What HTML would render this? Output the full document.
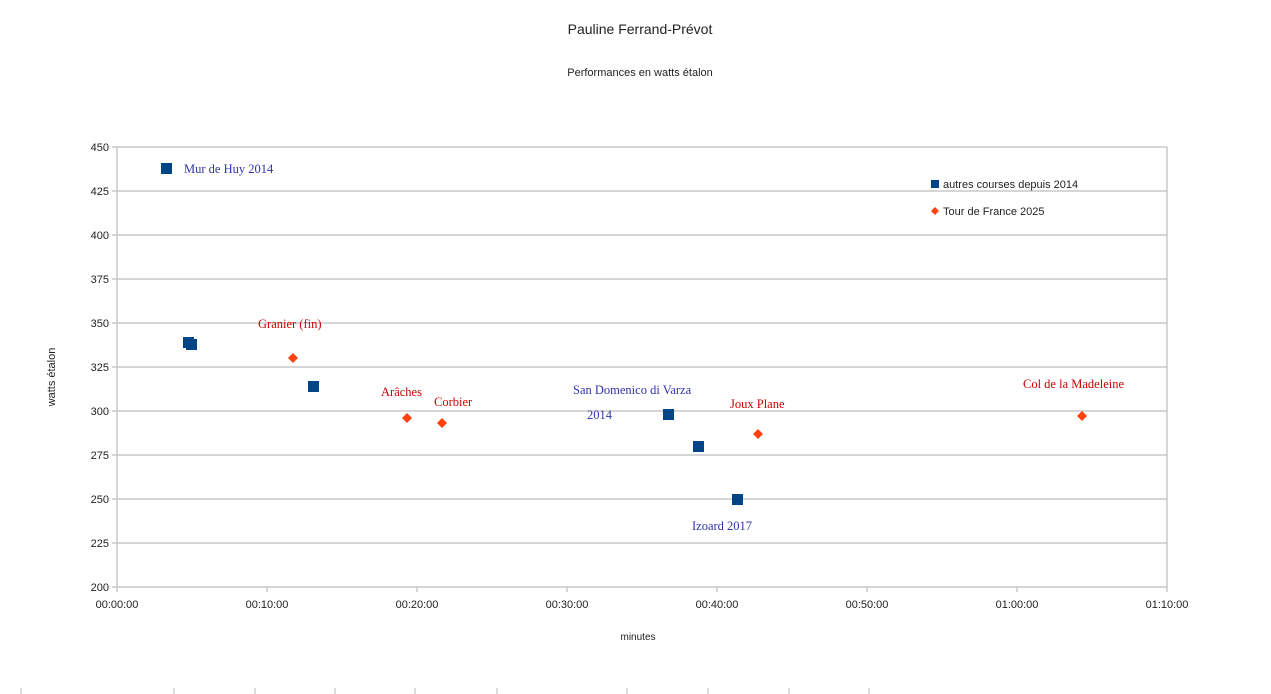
<!DOCTYPE html>
<html><head><meta charset="utf-8"><style>
body{margin:0;background:#fff;}
svg{display:block}
.s{font-family:"Liberation Sans",sans-serif;font-size:11px;fill:#222}
.l{font-family:"Liberation Serif",serif;font-size:12.5px}
</style></head><body>
<svg width="1271" height="694" viewBox="0 0 1271 694">
<text x="640" y="34" text-anchor="middle" font-family="Liberation Sans,sans-serif" font-size="14" fill="#222">Pauline Ferrand-Prévot</text>
<text x="640" y="76" text-anchor="middle" class="s" font-size="12">Performances en watts étalon</text>
<g stroke="#c8c8c8" stroke-width="1.5">
<line x1="112" y1="147" x2="1167" y2="147"/><line x1="112" y1="191" x2="1167" y2="191"/>
<line x1="112" y1="235" x2="1167" y2="235"/><line x1="112" y1="279" x2="1167" y2="279"/>
<line x1="112" y1="323" x2="1167" y2="323"/><line x1="112" y1="367" x2="1167" y2="367"/>
<line x1="112" y1="411" x2="1167" y2="411"/><line x1="112" y1="455" x2="1167" y2="455"/>
<line x1="112" y1="499" x2="1167" y2="499"/><line x1="112" y1="543" x2="1167" y2="543"/>
<line x1="112" y1="587" x2="1167" y2="587"/>
<line x1="117" y1="147" x2="117" y2="592"/><line x1="1167" y1="147" x2="1167" y2="592"/>
<line x1="267" y1="587" x2="267" y2="592"/><line x1="417" y1="587" x2="417" y2="592"/>
<line x1="567" y1="587" x2="567" y2="592"/><line x1="717" y1="587" x2="717" y2="592"/>
<line x1="867" y1="587" x2="867" y2="592"/><line x1="1017" y1="587" x2="1017" y2="592"/>
</g>
<g class="s" text-anchor="end">
<text x="109" y="151">450</text><text x="109" y="195">425</text><text x="109" y="239">400</text>
<text x="109" y="283">375</text><text x="109" y="327">350</text><text x="109" y="371">325</text>
<text x="109" y="415">300</text><text x="109" y="459">275</text><text x="109" y="503">250</text>
<text x="109" y="547">225</text><text x="109" y="591">200</text>
</g>
<g class="s" text-anchor="middle">
<text x="117" y="608">00:00:00</text><text x="267" y="608">00:10:00</text><text x="417" y="608">00:20:00</text>
<text x="567" y="608">00:30:00</text><text x="717" y="608">00:40:00</text><text x="867" y="608">00:50:00</text>
<text x="1017" y="608">01:00:00</text><text x="1167" y="608">01:10:00</text>
<text x="638" y="640" font-size="10">minutes</text>
</g>
<text transform="translate(55,377) rotate(-90)" text-anchor="middle" class="s" font-size="10">watts étalon</text>
<g fill="#004586">
<rect x="161" y="163" width="11" height="11"/><rect x="183" y="337" width="11" height="11"/>
<rect x="186" y="339" width="11" height="11"/><rect x="308" y="381" width="11" height="11"/>
<rect x="663" y="409" width="11" height="11"/><rect x="693" y="441" width="11" height="11"/>
<rect x="732" y="494" width="11" height="11"/><rect x="931" y="180" width="8" height="8"/>
</g>
<g fill="#ff420e">
<path d="M293 353l5 5-5 5-5-5z"/><path d="M407 413l5 5-5 5-5-5z"/><path d="M442 418l5 5-5 5-5-5z"/>
<path d="M758 429l5 5-5 5-5-5z"/><path d="M1082 411l5 5-5 5-5-5z"/><path d="M935 207l4 4-4 4-4-4z"/>
</g>
<text x="943" y="188" class="s">autres courses depuis 2014</text>
<text x="943" y="215" class="s">Tour de France 2025</text>
<g class="l" fill="#3333aa">
<text x="184" y="173">Mur de Huy 2014</text>
<text x="573" y="394">San Domenico di Varza</text>
<text x="587" y="419">2014</text>
<text x="692" y="530">Izoard 2017</text>
</g>
<g class="l" fill="#cc0000">
<text x="258" y="328">Granier (fin)</text>
<text x="381" y="396">Arâches</text>
<text x="434" y="406">Corbier</text>
<text x="730" y="408">Joux Plane</text>
<text x="1023" y="388">Col de la Madeleine</text>
</g>
<g stroke="#bbb" stroke-width="1">
<line x1="21" y1="688" x2="21" y2="694"/><line x1="174" y1="688" x2="174" y2="694"/>
<line x1="255" y1="688" x2="255" y2="694"/><line x1="335" y1="688" x2="335" y2="694"/>
<line x1="415" y1="688" x2="415" y2="694"/><line x1="497" y1="688" x2="497" y2="694"/>
<line x1="627" y1="688" x2="627" y2="694"/><line x1="708" y1="688" x2="708" y2="694"/>
<line x1="789" y1="688" x2="789" y2="694"/><line x1="869" y1="688" x2="869" y2="694"/>
</g>
</svg>
</body></html>
